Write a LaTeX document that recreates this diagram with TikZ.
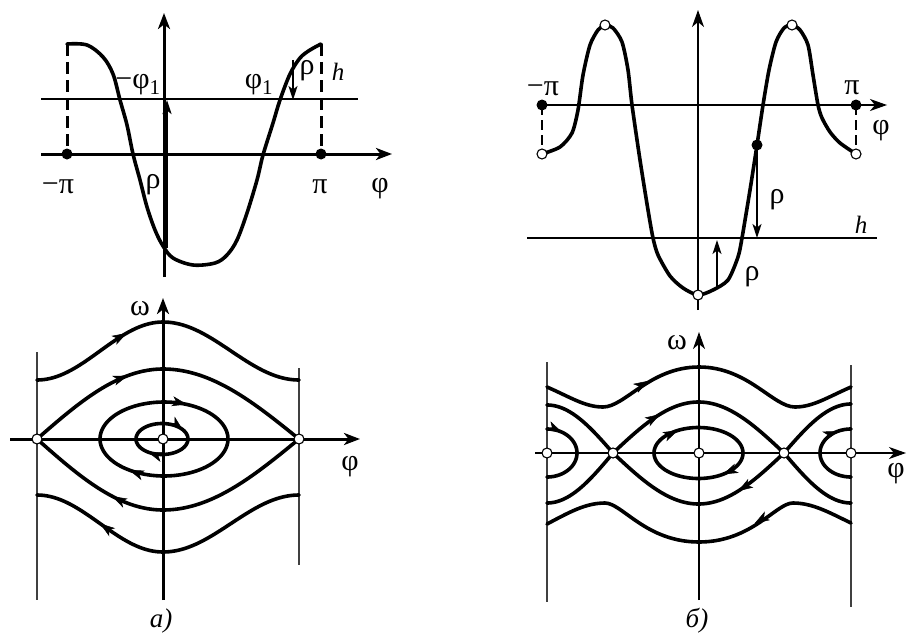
\documentclass[tikz,border=0pt]{standalone}
\usepackage{fontspec}
\setmainfont{Liberation Serif}
\usetikzlibrary{arrows.meta}
\begin{document}
\begin{tikzpicture}[x=1pt,y=-1pt,
  curve/.style={line width=3.6pt, line join=round, line cap=round},
  thinline/.style={line width=1.3pt},
  gridline/.style={line width=1.1pt, black!75},
  thickaxis/.style={line width=3pt, -{Stealth[length=16pt,width=12pt,inset=4.5pt]}},
  thinaxis/.style={line width=1.3pt, -{Stealth[length=17pt,width=12pt,inset=5pt]}},
  rhoarrow/.style={-{Stealth[length=14pt,width=9pt,inset=3.5pt]}},
  lbl/.style={font=\fontsize{30}{34}\selectfont, inner sep=0pt},
  ilbl/.style={font=\fontsize{25}{29}\selectfont\itshape, inner sep=0pt},
  sublbl/.style={font=\fontsize{27}{31}\selectfont\itshape, inner sep=0pt},
  opendot/.style={circle, draw, fill=white, line width=1.1pt, minimum size=10pt, inner sep=0pt},
  fulldot/.style={circle, fill=black, minimum size=11pt, inner sep=0pt},
  flowtip/.tip={Stealth[length=15pt,width=10pt,inset=4pt]},
  ftip/.style={line width=0.5pt, -{flowtip}},
]
\useasboundingbox (0,0) rectangle (907,634);

% ---------------- top left ----------------
\draw[thinline] (41,99) -- (358,99);
\draw[thickaxis] (41,154) -- (392,154);
\draw[thickaxis] (164,277) -- (164,13);
\draw[line width=3pt, dash pattern=on 12pt off 6pt] (67,44) -- (67,154);
\draw[line width=3pt, dash pattern=on 12pt off 6pt] (321,44) -- (321,154);
\draw[curve] plot[smooth, tension=0.55] coordinates {(67,44) (87,45) (103,57) (113,74) (120,100) (127,125) (133,154) (140,180) (147,207) (155,230) (163,246) (173,258) (193,265) (215,263) (227,255) (237,240) (247,213) (257,180) (263,155) (273,123) (280,100) (290,74) (300,58) (310,50) (321,44)};
\node[fulldot] (tlL) at (67,154) {};
\node[fulldot] (tlR) at (321,154) {};
\draw[line width=2.2pt, rhoarrow] (167,248) -- (167,100);
\draw[line width=1.8pt, rhoarrow] (293,60) -- (293,100);
\node[lbl] (tlphim) at (138,85) {−φ\textsubscript{1}};
\node[lbl] (tlphip) at (259,85) {φ\textsubscript{1}};
\node[lbl] (tlrho1) at (307,71) {ρ};
\node[ilbl] (tlh) at (338,72) {h};
\node[lbl] (tlrho2) at (153,185) {ρ};
\node[lbl] (tlmpi) at (58,187) {−π};
\node[lbl] (tlpi) at (320,187) {π};
\node[lbl] (tlphi) at (380,189) {φ};

% ---------------- top right ----------------
\draw[thinline] (527,238) -- (877,238);
\draw[thinaxis] (542,105) -- (887,105);
\draw[thinaxis] (698,310) -- (698,10);
\draw[thinline, dash pattern=on 10pt off 5pt] (542,105) -- (542,154);
\draw[thinline, dash pattern=on 10pt off 5pt] (856,105) -- (856,154);
\draw[curve] plot[smooth, tension=0.45] coordinates {(542,154) (560,147) (572,133) (578,110) (583,75) (590,45) (598,30) (605,25) (613,28) (622,42) (628,70) (632,105) (640,160) (648,210) (653,238) (658,255) (670,276) (683,288) (698,295) (713,290) (728,280) (738,257) (742,238) (750,190) (757,145) (763,105) (769,70) (776,42) (784,28) (792,25) (800,30) (808,45) (813,75) (818,105) (822,118) (830,132) (840,143) (856,154)};
\node[fulldot] (trL) at (542,105) {};
\node[fulldot] (trR) at (856,105) {};
\node[opendot] (trL2) at (542,154) {};
\node[opendot] (trR2) at (856,154) {};
\node[opendot] (trP1) at (605,25) {};
\node[opendot] (trP2) at (792,25) {};
\node[opendot] (trB) at (698,295) {};
\node[fulldot] (trD) at (757,145) {};
\draw[thinline, rhoarrow] (trD.center) -- (757,238);
\draw[thinline, rhoarrow] (717,289) -- (717,240);
\node[lbl] (trmpi) at (543,89) {−π};
\node[lbl] (trpi) at (852,88) {π};
\node[lbl] (trphi) at (881,131) {φ};
\node[lbl] (trrho1) at (777,200) {ρ};
\node[ilbl] (trh) at (861,225) {h};
\node[lbl] (trrho2) at (752,277) {ρ};

% ---------------- bottom left ----------------
\draw[gridline] (37,352) -- (37,600);
\draw[gridline] (299,368) -- (299,565);
\draw[thickaxis] (10,439) -- (360,439);
\draw[thickaxis] (163,600) -- (163,298);
\draw[curve] plot[domain=37:299, samples=80] (\x,{351-29*cos((\x-163)*ifthenelse(\x<163,1.4286,1.3235))});
\draw[curve] plot[domain=37:299, samples=80] (\x,{523.5+28.5*cos((\x-163)*ifthenelse(\x<163,1.4286,1.3235))});
\draw[curve] plot[domain=37:299, samples=100] (\x,{439-70*cos((\x-163)*ifthenelse(\x<163,0.7143,0.6618))});
\draw[curve] plot[domain=37:299, samples=100] (\x,{439+71*cos((\x-163)*ifthenelse(\x<163,0.7143,0.6618))});
\draw[curve] plot[domain=0:-360, samples=90] ({164+64*cos(\x)},{439-37*sin(\x)});
\draw[curve] plot[domain=0:-360, samples=70] ({162+26*cos(\x)},{439-15.5*sin(\x)});
% flow arrows
\draw[ftip] (122,335.8) -- (127,333);
\draw[ftip] (123,377.4) -- (128,375.6);
\draw[ftip] (117,498.8) -- (112,496.2);
\draw[ftip] (105,527.1) -- (100,523.5);
\draw[ftip] (182,403.3) -- (187,404.4);
\draw[ftip] (134,471.9) -- (129,470);
\draw[ftip] (179,426.7) -- (183,430);
\draw[ftip] (153,453.9) -- (148,452.1);
\node[opendot] (blL) at (37,439) {};
\node[opendot] (blC) at (163,439) {};
\node[opendot] (blR) at (299,439) {};
\node[lbl] (blomega) at (140,309) {ω};
\node[lbl] (blphi) at (350,467) {φ};
\node[sublbl] (bla) at (161,621) {а)};

% ---------------- bottom right ----------------
\draw[gridline] (547,362) -- (547,602);
\draw[gridline] (851,365) -- (851,607);
\draw[thinaxis] (535,453) -- (906,453);
\draw[thinaxis] (699,600) -- (699,332);
% outer orbits
\draw[curve] (547,387) .. controls (570,397) and (585,407) .. (603,407)
  .. controls (625,407) and (650,367) .. (699,367)
  .. controls (748,367) and (773,407) .. (795,407)
  .. controls (813,407) and (828,397) .. (851,387);
\draw[curve] (547,524) .. controls (568,513) and (585,503) .. (605,503)
  .. controls (622,503) and (646,542) .. (699,542)
  .. controls (752,542) and (776,503) .. (793,503)
  .. controls (813,503) and (830,513) .. (851,523);
% separatrices
\draw[curve] plot[domain=547:613, samples=40] (\x,{453-48*cos((\x-547)*1.3636)});
\draw[curve] plot[domain=613:784, samples=90] (\x,{453-51*cos((\x-698.5)*1.0526)});
\draw[curve] plot[domain=784:851, samples=40] (\x,{453-49*cos((\x-851)*1.3433)});
\draw[curve] plot[domain=547:613, samples=40] (\x,{453+50*cos((\x-547)*1.3636)});
\draw[curve] plot[domain=613:784, samples=90] (\x,{453+51*cos((\x-698.5)*1.0526)});
\draw[curve] plot[domain=784:851, samples=40] (\x,{453+50*cos((\x-851)*1.3433)});
% closed orbits
\draw[curve] plot[domain=0:-360, samples=90] ({698.5+44.5*cos(\x)},{453-25.5*sin(\x)});
\draw[curve] plot[domain=90:-90, samples=50] ({547+30*cos(\x)},{453-24*sin(\x)});
\draw[curve] plot[domain=-90:-270, samples=50] ({851+31*cos(\x)},{453-24*sin(\x)});
% flow arrows
\draw[ftip] (644,383.4) -- (648.5,380.8);
\draw[ftip] (655.7,416.8) -- (660,414.2);
\draw[ftip] (673.5,432.5) -- (678,430.4);
\draw[ftip] (728,472.1) -- (723,474.3);
\draw[ftip] (743,488) -- (738,491.1);
\draw[ftip] (759,520.8) -- (754.5,523.5);
\draw[ftip] (557.5,430.1) -- (562,432.2);
\draw[ftip] (833.3,432.9) -- (838,431.2);
\node[opendot] (brL) at (547,453) {};
\node[opendot] (brS1) at (613,453) {};
\node[opendot] (brC) at (699,453) {};
\node[opendot] (brS2) at (784,453) {};
\node[opendot] (brR) at (851,453) {};
\node[lbl] (bromega) at (677,343) {ω};
\node[lbl] (brphi) at (896,474) {φ};
\node[sublbl] (brb) at (697,621) {б)};
\end{tikzpicture}
\end{document}
